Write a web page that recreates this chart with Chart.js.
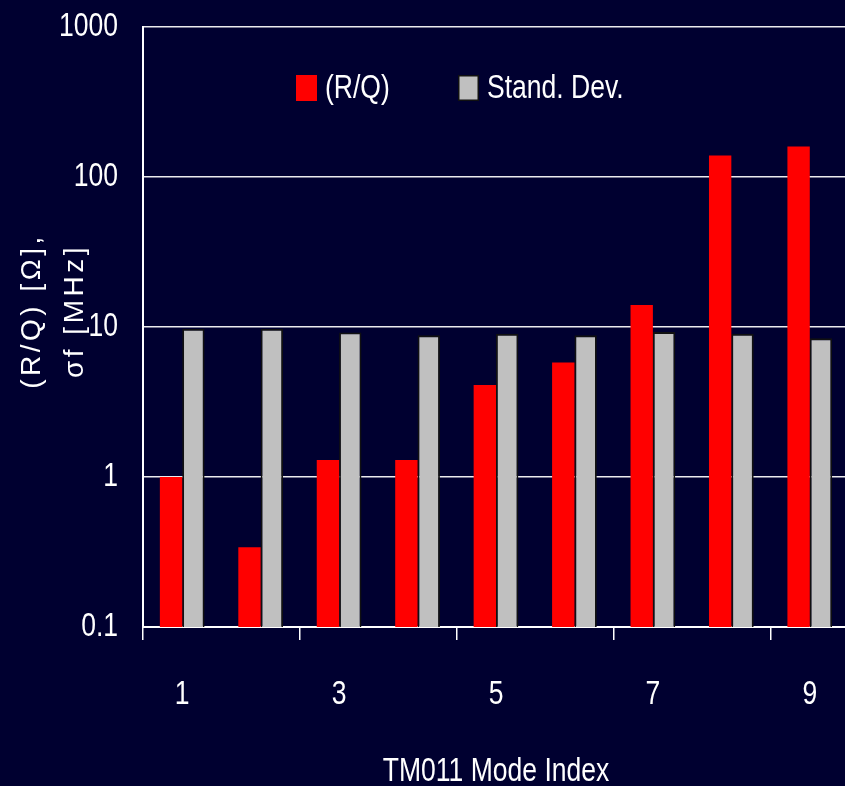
<!DOCTYPE html>
<html>
<head>
<meta charset="utf-8">
<script src="https://cdn.jsdelivr.net/npm/chart.js@4/dist/chart.umd.min.js"></script>
<style>
  html, body { margin: 0; padding: 0; background: #000030; overflow: hidden; width: 845px; height: 786px; }
  #wrap { position: absolute; left: 0; top: 0; width: 849px; height: 786px; }
</style>
</head>
<body>
<div id="wrap"><canvas id="c" width="849" height="786"></canvas></div>
<script>
// ---- data ----
const categories = ['1', '2', '3', '4', '5', '6', '7', '8', '9'];
const rqValues = [1.0, 0.34, 1.3, 1.3, 4.1, 5.8, 14, 139, 160];
const sdValues = [9.7, 9.7, 9.2, 8.8, 9.0, 8.8, 9.25, 9.0, 8.4];
const yTicks = [0.1, 1, 10, 100, 1000];
const seriesLabels = ['(R/Q)', 'Stand. Dev.'];
const yTitle = ['(R/Q) [Ω],', 'σf [MHz]'];
const xTitle = 'TM011 Mode Index';

const FONT = '"Liberation Sans", Arial, sans-serif';
const BG = '#000030';
const NARROW = 0.78; // horizontal text compression (Arial Narrow look)

const canvas = document.getElementById('c');
const ctx0 = canvas.getContext('2d');
const origFill = ctx0.fillText.bind(ctx0);
ctx0._sx = NARROW;
ctx0.fillText = function (t, x, y) {
  if (this._sx === 1) return origFill(t, x, y);
  this.save();
  this.translate(x, y);
  this.scale(this._sx, 1);
  origFill(t, 0, 0);
  this.restore();
};

const bgPlugin = {
  id: 'bg',
  beforeDraw(chart) {
    const ctx = chart.ctx;
    ctx.save();
    ctx.fillStyle = BG;
    ctx.fillRect(0, 0, chart.width, chart.height);
    ctx.restore();
  }
};

const titleTweak = {
  id: 'titleTweak',
  afterLayout(chart) {
    const s = chart.scales.y;
    if (s && !s._wrapped) {
      const orig = s.drawTitle;
      s.drawTitle = function () {
        const ctx = this.ctx;
        ctx.save();
        ctx.letterSpacing = '3.5px';
        ctx._sx = 1;
        ctx.translate(0, -16);
        orig.call(this);
        ctx.restore();
        ctx._sx = NARROW;
      };
      s._wrapped = true;
    }
  }
};

const legendPlugin = {
  id: 'customLegend',
  afterDraw(chart) {
    const ctx = chart.ctx;
    const pos = [296, 458];
    ctx.save();
    ctx.font = '34px ' + FONT;
    ctx.textBaseline = 'middle';
    ctx.textAlign = 'left';
    chart.data.datasets.forEach((ds, i) => {
      const x = pos[i], y = 75, w = 21, h = 26;
      ctx.fillStyle = ds.backgroundColor;
      ctx.fillRect(x, y, w, h);
      if (ds.borderWidth) {
        ctx.strokeStyle = ds.borderColor;
        ctx.lineWidth = 1.5;
        ctx.strokeRect(x + 0.75, y + 0.75, w - 1.5, h - 1.5);
      }
      ctx.fillStyle = '#ffffff';
      ctx.fillText(ds.label, x + w + 8, y + h / 2 + 1);
    });
    ctx.restore();
  }
};

new Chart(canvas, {
  type: 'bar',
  data: {
    labels: categories,
    datasets: [
      { label: seriesLabels[0], data: rqValues, backgroundColor: '#ff0000', borderWidth: 0 },
      { label: seriesLabels[1], data: sdValues, backgroundColor: '#c0c0c0', borderColor: '#111111', borderWidth: 1.8 }
    ]
  },
  options: {
    responsive: false,
    devicePixelRatio: 1,
    animation: false,
    layout: { padding: { top: 27, right: 0, left: 0, bottom: 0 } },
    datasets: { bar: { categoryPercentage: 0.57, barPercentage: 1.0 } },
    plugins: {
      legend: { display: false },
      tooltip: { enabled: false }
    },
    scales: {
      x: {
        type: 'category',
        offset: true,
        grid: {
          offset: true, drawOnChartArea: false, drawTicks: true, tickLength: 13, lineWidth: 1.5,
          color: (c) => (c.index % 2 === 0 ? '#ffffff' : 'rgba(0,0,0,0)')
        },
        border: { display: true, color: '#ffffff', width: 2 },
        ticks: {
          autoSkip: false, maxRotation: 0, color: '#ffffff', padding: 34,
          font: { family: FONT, size: 34 },
          callback: function (v, i) { return i % 2 === 0 ? this.getLabelForValue(v) : ''; }
        },
        title: { display: true, text: xTitle, color: '#ffffff', font: { family: FONT, size: 34, lineHeight: 0.875 }, padding: { top: 0, bottom: 0 } },
        afterFit(scale) { scale.height = 159; scale.paddingLeft = 0; scale.paddingRight = 0; }
      },
      y: {
        type: 'logarithmic',
        min: yTicks[0],
        max: yTicks[yTicks.length - 1],
        afterBuildTicks(scale) { scale.ticks = yTicks.map(v => ({ value: v })); },
        grid: { color: 'rgba(255,255,255,0.92)', lineWidth: 1.5, drawTicks: false },
        border: { display: true, color: '#ffffff', width: 2 },
        ticks: {
          color: '#ffffff', padding: 25,
          font: { family: FONT, size: 34 },
          callback: (v) => String(v)
        },
        title: { display: true, text: yTitle, color: '#ffffff', font: { family: FONT, size: 28, lineHeight: 1.536 }, padding: { top: 10.5, bottom: 0 } },
        afterFit(scale) { scale.width = 143; scale.paddingTop = 0; scale.paddingBottom = 0; }
      }
    }
  },
  plugins: [bgPlugin, titleTweak, legendPlugin]
});
</script>
</body>
</html>
